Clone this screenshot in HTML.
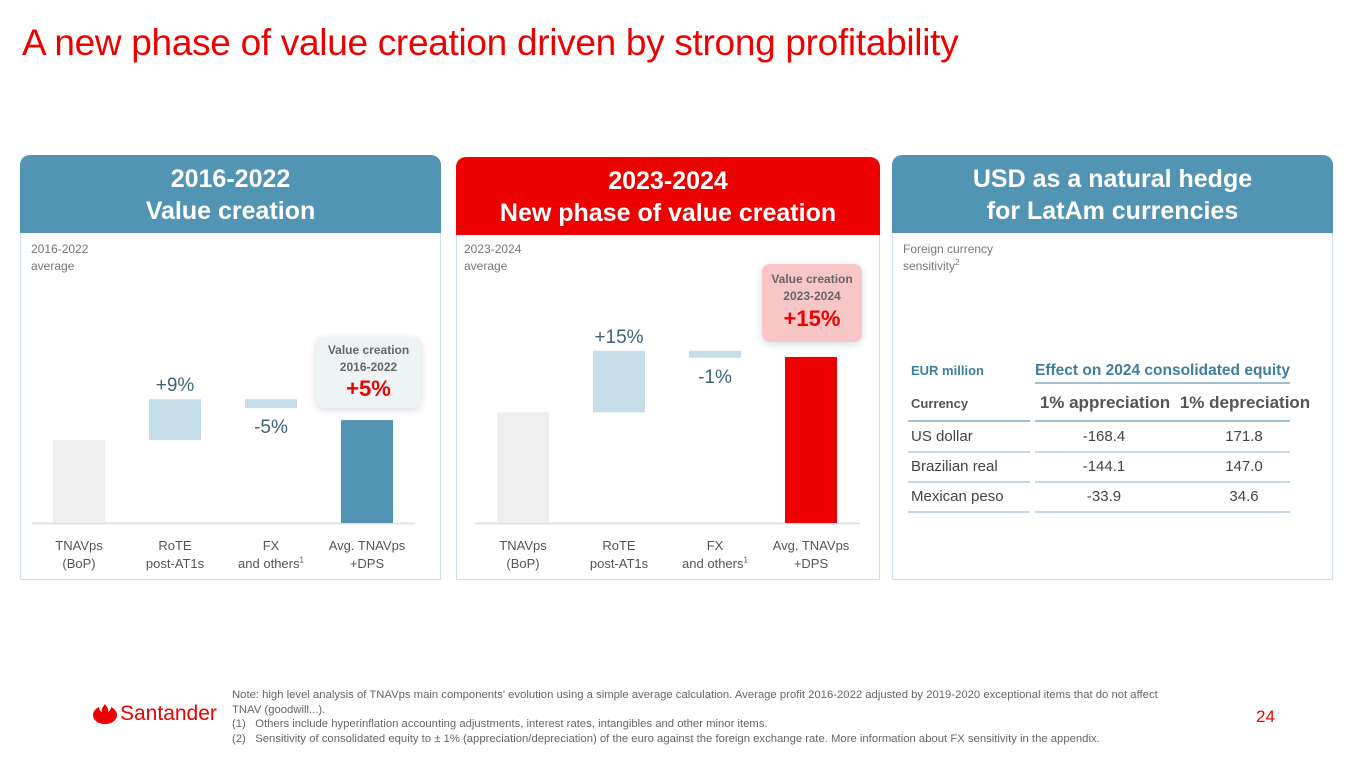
<!DOCTYPE html>
<html><head><meta charset="utf-8">
<style>
*{margin:0;padding:0;box-sizing:border-box}
body{width:1365px;height:768px;background:#fff;font-family:"Liberation Sans",sans-serif;position:relative;overflow:hidden;color:#444}
.abs{position:absolute}
.title{left:22px;top:22px;font-size:37px;color:#ec0000;letter-spacing:-0.3px;white-space:nowrap}
.panel{border:1px solid #cfe0ea;border-radius:10px 10px 0 0;background:#fff}
.hdr{position:absolute;left:-1px;right:-1px;top:-1px;height:78px;border-radius:10px 10px 0 0;color:#fff;font-weight:bold;font-size:25px;text-align:center;line-height:32px;padding-top:8px}
.sub{font-size:12px;color:#777;line-height:17px}
.xl{font-size:13px;color:#555;text-align:center;line-height:18px;width:96px}
.tb{font-size:15px;color:#444}
.ln{position:absolute;height:2px;background:#c5d9e4}
.note{left:232px;top:688px;font-size:11.3px;color:#666;line-height:14.5px;width:950px}
</style></head><body>
<div class="abs title">A new phase of value creation driven by strong profitability</div>

<div class="abs panel" style="left:20px;top:155px;width:421px;height:425px">
 <div class="hdr" style="background:#5294b4">2016-2022<br>Value creation</div>
 <div class="abs sub" style="left:10px;top:85px">2016-2022<br>average</div>
</div>
<div class="abs panel" style="left:456px;top:157px;width:424px;height:423px">
 <div class="hdr" style="background:#ec0000">2023-2024<br>New phase of value creation</div>
 <div class="abs sub" style="left:7px;top:83px">2023-2024<br>average</div>
</div>
<div class="abs panel" style="left:892px;top:155px;width:441px;height:425px">
 <div class="hdr" style="background:#5294b4">USD as a natural hedge<br>for LatAm currencies</div>
 <div class="abs sub" style="left:10px;top:85px">Foreign currency<br>sensitivity<sup style="font-size:8px;line-height:0">2</sup></div>
</div>

<svg class="abs" style="left:0;top:0" width="1365" height="768" id="charts"></svg>

<div class="abs" style="left:316px;top:337px;width:105px;height:71px;background:#eef3f6;border-radius:8px;box-shadow:0 2px 8px rgba(0,0,0,.15);text-align:center;padding-top:5px">
 <div style="font-size:12px;font-weight:bold;color:#666;line-height:17px">Value creation<br>2016-2022</div>
 <div style="font-size:22px;font-weight:bold;color:#ec0000;line-height:26px">+5%</div>
</div>
<div class="abs" style="left:762px;top:264px;width:100px;height:78px;background:#f8c6c6;border-radius:8px;box-shadow:0 2px 8px rgba(0,0,0,.15);text-align:center;padding-top:7px">
 <div style="font-size:12px;font-weight:bold;color:#666;line-height:17px">Value creation<br>2023-2024</div>
 <div style="font-size:22px;font-weight:bold;color:#ec0000;line-height:28px">+15%</div>
</div>

<div class="abs xl" style="left:31px;top:537px">TNAVps<br>(BoP)</div>
<div class="abs xl" style="left:127px;top:537px">RoTE<br>post-AT1s</div>
<div class="abs xl" style="left:223px;top:537px">FX<br>and others<sup style="font-size:8px;line-height:0">1</sup></div>
<div class="abs xl" style="left:319px;top:537px">Avg. TNAVps<br>+DPS</div>
<div class="abs xl" style="left:475px;top:537px">TNAVps<br>(BoP)</div>
<div class="abs xl" style="left:571px;top:537px">RoTE<br>post-AT1s</div>
<div class="abs xl" style="left:667px;top:537px">FX<br>and others<sup style="font-size:8px;line-height:0">1</sup></div>
<div class="abs xl" style="left:763px;top:537px">Avg. TNAVps<br>+DPS</div>

<div>
<div class="abs" style="left:911px;top:363px;font-size:13px;font-weight:bold;color:#3f7f9e">EUR million</div>
<div class="abs" style="left:1025px;top:362px;width:275px;text-align:center;font-size:15.5px;font-weight:bold;color:#3f7f9e;white-space:nowrap">Effect on 2024 consolidated equity</div>
<div class="ln" style="left:1035px;top:382px;width:255px;background:#9fc1d3"></div>
<div class="abs" style="left:911px;top:396px;font-size:13px;font-weight:bold;color:#555">Currency</div>
<div class="abs" style="left:1035px;top:393px;width:140px;text-align:center;font-size:17px;font-weight:bold;color:#555;white-space:nowrap">1% appreciation</div>
<div class="abs" style="left:1175px;top:393px;width:140px;text-align:center;font-size:17px;font-weight:bold;color:#555;white-space:nowrap">1% depreciation</div>
<div class="ln" style="left:908px;top:420px;width:122px;background:#9fc1d3"></div><div class="ln" style="left:1035px;top:420px;width:255px;background:#9fc1d3"></div>
<div class="abs tb" style="left:911px;top:428px">US dollar</div>
<div class="abs tb" style="left:1054px;top:428px;width:100px;text-align:center">-168.4</div>
<div class="abs tb" style="left:1194px;top:428px;width:100px;text-align:center">171.8</div>
<div class="ln" style="left:908px;top:451px;width:122px"></div><div class="ln" style="left:1035px;top:451px;width:255px"></div>
<div class="abs tb" style="left:911px;top:458px">Brazilian real</div>
<div class="abs tb" style="left:1054px;top:458px;width:100px;text-align:center">-144.1</div>
<div class="abs tb" style="left:1194px;top:458px;width:100px;text-align:center">147.0</div>
<div class="ln" style="left:908px;top:481px;width:122px"></div><div class="ln" style="left:1035px;top:481px;width:255px"></div>
<div class="abs tb" style="left:911px;top:488px">Mexican peso</div>
<div class="abs tb" style="left:1054px;top:488px;width:100px;text-align:center">-33.9</div>
<div class="abs tb" style="left:1194px;top:488px;width:100px;text-align:center">34.6</div>
<div class="ln" style="left:908px;top:511px;width:122px"></div><div class="ln" style="left:1035px;top:511px;width:255px"></div>
</div>

<div class="abs" style="left:93px;top:702px;display:flex;align-items:center">
 <svg width="24" height="22" viewBox="0 0 24 22"><path d="M12 1c2 3 4 5 3 8 2-1 3-3 3-5 4 2 6 5 6 8 0 5-5 9-12 9S0 17 0 12c0-3 2-6 6-8 0 2 1 4 3 5-1-3 1-5 3-8z" fill="#ec0000"/></svg>
 <span style="font-size:21px;color:#ec0000;margin-left:3px">Santander</span>
</div>
<div class="abs note">Note: high level analysis of TNAVps main components' evolution using a simple average calculation. Average profit 2016-2022 adjusted by 2019-2020 exceptional items that do not affect TNAV (goodwill...).<br>(1)&nbsp;&nbsp;&nbsp;Others include hyperinflation accounting adjustments, interest rates, intangibles and other minor items.<br>(2)&nbsp;&nbsp;&nbsp;Sensitivity of consolidated equity to ± 1% (appreciation/depreciation) of the euro against the foreign exchange rate. More information about FX sensitivity in the appendix.</div>
<div class="abs" style="left:1256px;top:707px;font-size:17px;color:#ec0000">24</div>

<script>
const categories = ["TNAVps (BoP)", "RoTE post-AT1s", "FX and others", "Avg. TNAVps +DPS"];
const base1 = 20.2, rote1 = 10, fx1 = -2.2, final1 = 25.1;
const base2 = 27, rote2 = 15, fx2 = -1.7, final2 = 40.5;
const labels1 = ["+9%", "-5%"];
const labels2 = ["+15%", "-1%"];
const svg = document.getElementById('charts');
const NS = 'http://www.w3.org/2000/svg';
const baseY = 523, pxPerUnit = 4.1;
function y(v){ return baseY - v * pxPerUnit; }
function rect(x, v0, v1, fill, name){
  const r = document.createElementNS(NS,'rect');
  r.setAttribute('x', x); r.setAttribute('width', 52);
  r.setAttribute('y', Math.min(y(v0), y(v1)));
  r.setAttribute('height', Math.abs(y(v0)-y(v1)));
  r.setAttribute('fill', fill);
  
  
  svg.appendChild(r);
}
function text(x, yy, s, name){
  const t = document.createElementNS(NS,'text');
  t.setAttribute('x', x); t.setAttribute('y', yy);
  t.setAttribute('text-anchor','middle');
  t.setAttribute('font-size','19'); t.setAttribute('fill','#3d6478');
  t.setAttribute('font-family','Liberation Sans, sans-serif');
  t.textContent = s;
  
  
  svg.appendChild(t);
}
function axis(x1, x2){
  const l = document.createElementNS(NS,'line');
  l.setAttribute('x1',x1); l.setAttribute('x2',x2); l.setAttribute('y1',baseY+0.5); l.setAttribute('y2',baseY+0.5);
  l.setAttribute('stroke','#ddd'); l.setAttribute('stroke-width','1.5');
  
  
  svg.appendChild(l);
}
function chart(x0, base, rote, fx, fin, labels, finColor, axisX1, axisX2){
  axis(axisX1, axisX2);
  rect(x0, 0, base, '#eeeeee', 'bar-tnavps-bop');
  rect(x0+96, base, base+rote, '#c5dee8', 'bar-rote');
  rect(x0+192, base+rote, base+rote+fx, '#c5dee8', 'bar-fx');
  rect(x0+288, 0, fin, finColor, 'bar-avg-tnavps');
  text(x0+122, y(base+rote)-8, labels[0], 'label-rote');
  text(x0+218, Math.max(y(base+rote+fx), y(base+rote)) + 25, labels[1], 'label-fx');
}
chart(53, base1, rote1, fx1, final1, labels1, '#5294b4', 32, 415);
chart(497, base2, rote2, fx2, final2, labels2, '#ec0000', 475, 860);
</script>
</body></html>
